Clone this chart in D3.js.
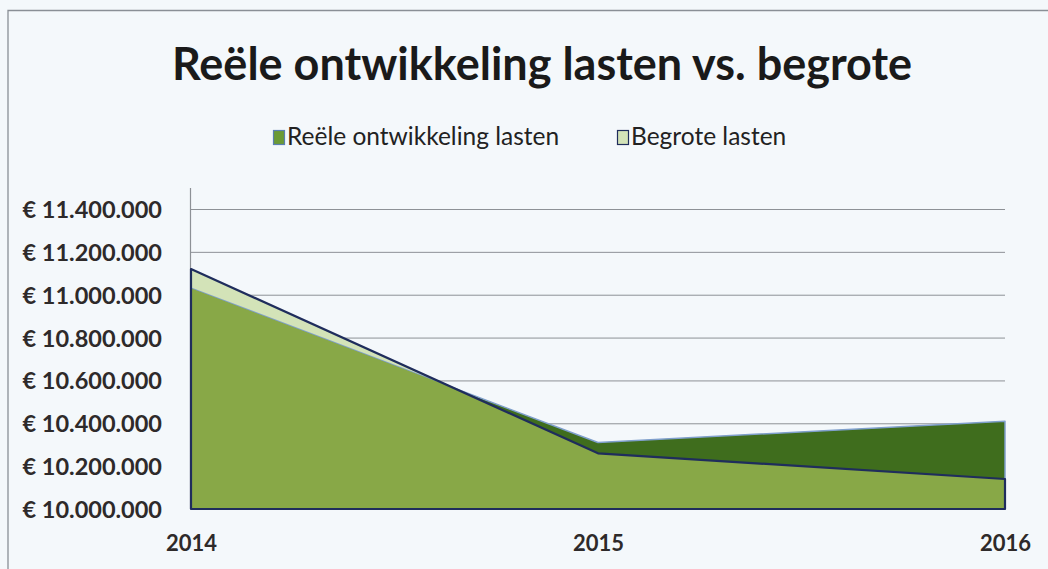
<!DOCTYPE html>
<html>
<head>
<meta charset="utf-8">
<script src="https://cdn.jsdelivr.net/npm/d3@7"></script>
<style>
  body { margin: 0; background: #f4f8fb; }
  svg { display: block; }
  text { font-family: Lato, "Open Sans", sans-serif; }
</style>
</head>
<body>
<svg id="chart" width="1048" height="569"></svg>
<script>
// data
const years = ["2014", "2015", "2016"];
const reeleLasten = [11030000, 10310000, 10410000];
const begroteLasten = [11120000, 10260000, 10140000];
const yTicks = [10000000, 10200000, 10400000, 10600000, 10800000, 11000000, 11200000, 11400000];
const seriesNames = ["Reële ontwikkeling lasten", "Begrote lasten"];
const titleText = "Reële ontwikkeling lasten vs. begrote";

const chart = {
    margin: {top: 209, bottom: 60, left: 191, right: 43},
    width: 1048,
    height: 569,
    colors: {
        dark: "#3f6d1d",
        overlap: "#88a847",
        pale: "#d3e3b8",
        navy: "#1f2d5c",
        edge: "#7f9fcc"
    },
    fmt: d3.formatLocale({decimal: ",", thousands: ".", grouping: [3], currency: ["€ ", ""]}).format("$,.0f"),

    drawFrame: function(svg){
        // scanned frame: top and left border only
        svg.append("path")
            .attr("d", "M8,569 V10.5 H1048")
            .attr("fill", "none")
            .attr("stroke", "#8a8f96")
            .attr("stroke-width", 1.3);
        svg.append("text")
            .attr("x", 542)
            .attr("y", 80)
            .attr("text-anchor", "middle")
            .attr("font-size", 45)
            .attr("font-weight", "bold")
            .attr("fill", "#1a1a1a")
            .text(titleText);
    },

    drawLegend: function(svg){
        const items = [
            {name: seriesNames[0], x: 273, fill: "#6b9a35", stroke: "#5a7fb0"},
            {name: seriesNames[1], x: 617, fill: chart.colors.pale, stroke: chart.colors.navy}
        ];
        const g = svg.append("g");
        items.forEach(function(it){
            g.append("rect")
                .attr("x", it.x + 0.5)
                .attr("y", 130.5)
                .attr("width", 11)
                .attr("height", 14)
                .attr("fill", it.fill)
                .attr("stroke", it.stroke)
                .attr("stroke-width", 1.2);
            g.append("text")
                .attr("x", it.x + 14)
                .attr("y", 145)
                .attr("font-size", 24.5)
                .attr("fill", "#222")
                .text(it.name);
        });
    },

    drawAxes: function(svg){
        const m = chart.margin;
        chart.x = d3.scalePoint()
            .domain(years)
            .range([m.left, chart.width - m.right]);
        chart.y = d3.scaleLinear()
            .domain([yTicks[0], yTicks[yTicks.length - 1]])
            .range([chart.height - m.bottom, m.top]);

        // gridlines
        svg.append("g")
            .attr("class", "grid")
            .attr("transform", "translate(" + m.left + ",0)")
            .call(d3.axisRight(chart.y)
                .tickValues(yTicks.slice(1))
                .tickSize(chart.width - m.left - m.right)
                .tickFormat(""))
            .call(g => g.select(".domain").remove())
            .call(g => g.selectAll("line").attr("stroke", "#8d9196").attr("stroke-width", 1));

        // y axis line
        svg.append("line")
            .attr("x1", m.left - 0.5).attr("x2", m.left - 0.5)
            .attr("y1", 188).attr("y2", chart.y(yTicks[0]))
            .attr("stroke", "#8d9196")
            .attr("stroke-width", 1.2);

        // y labels
        svg.append("g")
            .attr("transform", "translate(" + (m.left - 26) + ",0)")
            .call(d3.axisLeft(chart.y).tickValues(yTicks).tickSize(0).tickFormat(chart.fmt))
            .call(g => g.select(".domain").remove())
            .call(g => g.selectAll("text")
                .attr("font-family", "Lato, sans-serif")
                .attr("font-size", 23.5)
                .attr("font-weight", "bold")
                .attr("fill", "#2e2a2a")
                .attr("dy", "0.36em"));

        // x labels
        svg.append("g")
            .attr("transform", "translate(0," + (chart.height - m.bottom) + ")")
            .call(d3.axisBottom(chart.x).tickSize(0).tickPadding(26))
            .call(g => g.select(".domain").remove())
            .call(g => g.selectAll("text")
                .attr("font-family", "Lato, sans-serif")
                .attr("font-size", 22)
                .attr("font-weight", "bold")
                .attr("fill", "#2e2a2a"));
    },

    drawAreas: function(svg){
        const base = chart.y(yTicks[0]);
        const rows = years.map((yr, i) => ({year: yr, reele: reeleLasten[i], begroot: begroteLasten[i]}));
        const reeleArea = d3.area()
            .x(d => chart.x(d.year))
            .y0(base)
            .y1(d => chart.y(d.reele));
        const begrootArea = d3.area()
            .x(d => chart.x(d.year))
            .y0(base)
            .y1(d => chart.y(d.begroot));

        svg.append("clipPath")
            .attr("id", "clipReele")
            .append("path")
            .attr("d", reeleArea(rows));

        // begrote (pale where above the real values)
        svg.append("path")
            .attr("d", begrootArea(rows))
            .attr("fill", chart.colors.pale);
        // reële
        svg.append("path")
            .attr("d", reeleArea(rows))
            .attr("fill", chart.colors.dark)
            .attr("stroke", chart.colors.edge)
            .attr("stroke-width", 1.5)
            .attr("stroke-linejoin", "round");
        // overlap of both areas
        svg.append("path")
            .attr("d", begrootArea(rows))
            .attr("clip-path", "url(#clipReele)")
            .attr("fill", chart.colors.overlap);
        // outline of begrote
        svg.append("path")
            .attr("d", begrootArea(rows))
            .attr("fill", "none")
            .attr("stroke", chart.colors.navy)
            .attr("stroke-width", 2.2)
            .attr("stroke-linejoin", "round");
    },

    init: function(){
        const svg = d3.select("#chart");
        chart.drawFrame(svg);
        chart.drawLegend(svg);
        chart.drawAxes(svg);
        chart.drawAreas(svg);
    }
};
chart.init();
</script>
</body>
</html>
